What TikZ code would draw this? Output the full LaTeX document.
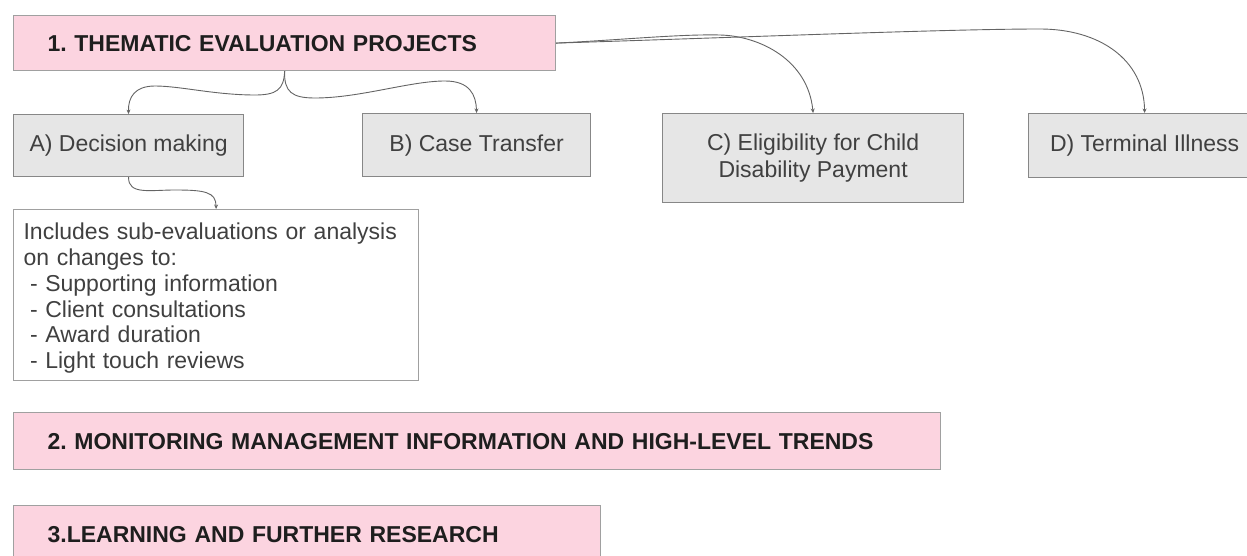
\documentclass[tikz,border=0pt]{standalone}
\usepackage{fontspec}
\setmainfont{Liberation Sans}
\usetikzlibrary{arrows.meta,calc}
\frenchspacing

\definecolor{headpink}{RGB}{252,212,224}
\definecolor{headline}{RGB}{160,160,160}
\definecolor{boxgray}{RGB}{230,230,230}
\definecolor{grayline}{RGB}{135,135,135}
\definecolor{connline}{RGB}{100,100,100}
\definecolor{titletext}{RGB}{30,30,30}
\definecolor{bodytext}{RGB}{64,64,64}

\begin{document}
\begin{tikzpicture}[x=1pt,y=-1pt,
  headbox/.style={draw=headline, fill=headpink, line width=1.2pt,
    anchor=north west, inner xsep=34pt, inner ysep=0pt, align=left,
    font=\fontsize{23}{27}\selectfont\bfseries, text=titletext},
  itembox/.style={draw=grayline, fill=boxgray, line width=1.2pt,
    anchor=north west, inner sep=0pt, align=center,
    font=\fontsize{23}{27}\selectfont, text=bodytext},
  notebox/.style={draw=headline, fill=white, line width=1.2pt,
    anchor=north west, inner xsep=10pt, inner ysep=0pt, align=left,
    font=\fontsize{23}{25.7}\selectfont, text=bodytext},
  conn/.style={draw=connline, line width=0.9pt,
    -{Stealth[length=4.5pt,width=4pt]}}]

\useasboundingbox (0,0) rectangle (1247,556);
\clip (0,0) rectangle (1247,556);

% section headers
\node[headbox, text width=474pt, minimum height=55pt] (t1) at (13,15)
  {1. THEMATIC EVALUATION PROJECTS};
\node[headbox, text width=859pt, minimum height=57pt] (t2) at (13,412)
  {2. MONITORING MANAGEMENT INFORMATION AND HIGH-LEVEL TRENDS};
\node[headbox, text width=519pt, minimum height=57pt] (t3) at (13,505)
  {3.LEARNING AND FURTHER RESEARCH};

% evaluation projects
\node[itembox, minimum width=230pt, minimum height=62pt] (pa) at (13,114)
  {A) Decision making};
\node[itembox, minimum width=228pt, minimum height=63pt] (pb) at (362,113)
  {B) Case Transfer};
\node[itembox, minimum width=301pt, minimum height=89pt] (pc) at (662,113)
  {C) Eligibility for Child\\Disability Payment};
\node[itembox, minimum width=232pt, minimum height=64pt] (pd) at (1028,113)
  {D) Terminal Illness};

% detail note under A
\node[notebox, text width=385pt, minimum height=171pt] (note) at (13,209)
  {\rule{0pt}{23pt}Includes sub-evaluations or analysis\\
   on changes to:\\
   \hspace*{6.4pt}- Supporting information\\
   \hspace*{6.4pt}- Client consultations\\
   \hspace*{6.4pt}- Award duration\\
   \hspace*{6.4pt}- Light touch reviews};

% connectors
\draw[conn] (t1.south) .. controls (284,90) and (276,95) .. (255,95)
  .. controls (215,95) and (180,86) .. (155,86)
  .. controls (135,86) and (128,97) .. (pa.north);
\draw[conn] (t1.south) .. controls (284,92) and (292,98) .. (315,98)
  .. controls (360,98) and (410,81) .. (445,81)
  .. controls (470,81) and (476,95) .. (pb.north);
\draw[conn] (t1.east) .. controls (620,40) and (680,34) .. (720,35)
  .. controls (760,36) and (808,60) .. (pc.north);
\draw[conn] (t1.east) .. controls (750,37) and (950,29) .. (1040,29)
  .. controls (1100,29) and (1144,60) .. (pd.north);
\draw[conn] (pa.south) .. controls (128,195) and (150,190) .. (175,190)
  .. controls (205,190) and (216,192) .. (note.north);

\end{tikzpicture}
\end{document}
